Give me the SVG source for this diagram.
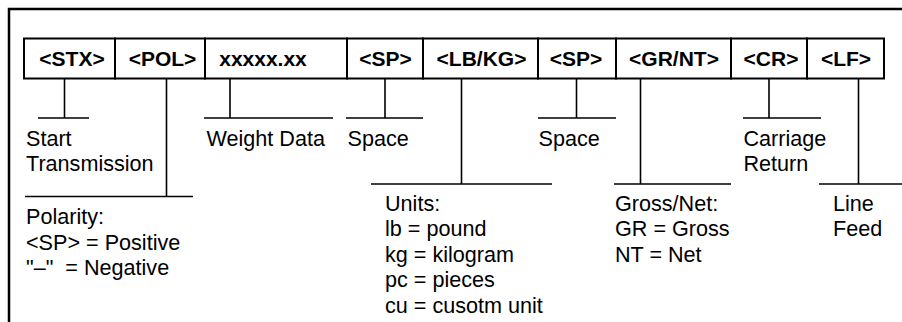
<svg xmlns="http://www.w3.org/2000/svg" width="902" height="322" viewBox="0 0 902 322">
<style>
.cell{fill:#fff;stroke:#000;stroke-width:2}
.f{font-family:"Liberation Sans",Arial,sans-serif;font-weight:bold;font-size:21px;fill:#000;text-anchor:middle}
.t{font-family:"Liberation Sans",Arial,sans-serif;font-size:21.6px;fill:#000}
.c{stroke:#000;stroke-width:1.6;fill:none}
</style>
<rect width="902" height="322" fill="#fff"/>
<path d="M9,322 V9 H902" fill="none" stroke="#000" stroke-width="2.5"/>
<g id="stx"><rect class="cell" x="24" y="38.5" width="91" height="40"/><text class="f" x="72" y="66">&lt;STX&gt;</text></g>
<g id="pol"><rect class="cell" x="115" y="38.5" width="90" height="40"/><text class="f" x="162.5" y="66">&lt;POL&gt;</text></g>
<g id="weight"><rect class="cell" x="205" y="38.5" width="142" height="40"/><text class="f" x="263" y="66">xxxxx.xx</text></g>
<g id="sp1"><rect class="cell" x="347" y="38.5" width="76" height="40"/><text class="f" x="385.5" y="66">&lt;SP&gt;</text></g>
<g id="units"><rect class="cell" x="423" y="38.5" width="115" height="40"/><text class="f" x="481.5" y="66">&lt;LB/KG&gt;</text></g>
<g id="sp2"><rect class="cell" x="538" y="38.5" width="78" height="40"/><text class="f" x="576" y="66">&lt;SP&gt;</text></g>
<g id="grnt"><rect class="cell" x="616" y="38.5" width="115" height="40"/><text class="f" x="674" y="66">&lt;GR/NT&gt;</text></g>
<g id="cr"><rect class="cell" x="731" y="38.5" width="76" height="40"/><text class="f" x="771" y="66">&lt;CR&gt;</text></g>
<g id="lf"><rect class="cell" x="807" y="38.5" width="77" height="40"/><text class="f" x="846" y="66">&lt;LF&gt;</text></g>
<g id="connectors" class="c">
<path class="c" d="M64.5,78.5 V118 M38,118 H89"/>
<path class="c" d="M166.5,78.5 V196.5 M25,196.5 H193"/>
<path class="c" d="M230,78.5 V118 M204,118 H333"/>
<path class="c" d="M385,78.5 V118 M346,118 H423"/>
<path class="c" d="M461.5,78.5 V184 M371,184 H552"/>
<path class="c" d="M576.5,78.5 V118 M538,118 H616"/>
<path class="c" d="M640.5,78.5 V184 M614,184 H731"/>
<path class="c" d="M769,78.5 V118 M743,118 H821"/>
<path class="c" d="M858.5,78.5 V184 M819,184 H902"/>
</g>
<g id="label-stx"><text class="t" x="26" y="145.5">Start</text><text class="t" x="26" y="171">Transmission</text></g>
<g id="label-weight"><text class="t" x="206.5" y="145.5">Weight Data</text></g>
<g id="label-sp1"><text class="t" x="347.5" y="145.5">Space</text></g>
<g id="label-sp2"><text class="t" x="538.5" y="145.5">Space</text></g>
<g id="label-cr"><text class="t" x="743.5" y="145.5">Carriage</text><text class="t" x="743.5" y="171">Return</text></g>
<g id="label-pol"><text class="t" x="26" y="224">Polarity:</text><text class="t" x="26" y="249.5">&lt;SP&gt; = Positive</text><text class="t" x="26" y="275">"–"&#160; = Negative</text></g>
<g id="label-units"><text class="t" x="385" y="210.7">Units:</text><text class="t" x="385" y="236">lb = pound</text><text class="t" x="385" y="261.7">kg = kilogram</text><text class="t" x="385" y="287.3">pc = pieces</text><text class="t" x="385" y="312.7">cu = cusotm unit</text></g>
<g id="label-grnt"><text class="t" x="615" y="210.7">Gross/Net:</text><text class="t" x="615" y="236">GR = Gross</text><text class="t" x="615" y="261.7">NT = Net</text></g>
<g id="label-lf"><text class="t" x="833" y="210.7">Line</text><text class="t" x="833" y="236">Feed</text></g>
</svg>
